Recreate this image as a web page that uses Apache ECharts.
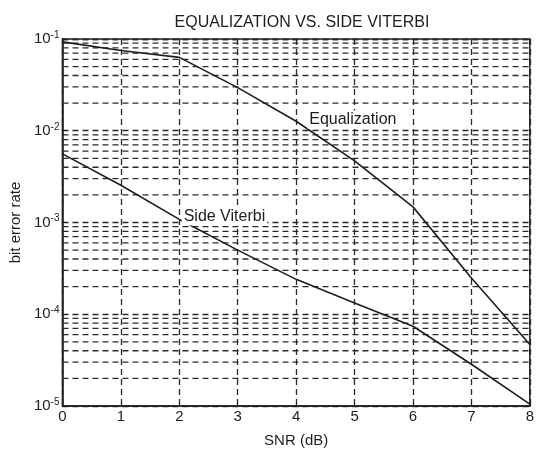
<!DOCTYPE html>
<html>
<head>
<meta charset="utf-8">
<script src="https://cdn.jsdelivr.net/npm/echarts@6/dist/echarts.min.js"></script>
<style>
html,body{margin:0;padding:0;background:#fff;}
#chart{width:537px;height:453px;}
</style>
</head>
<body>
<div id="chart"></div>
<script>
const snr = [0, 1, 2, 3, 4, 5, 6, 7, 8];
const equalization = [0.093, 0.075, 0.063, 0.0295, 0.0127, 0.0047, 0.00148, 0.000248, 0.0000468];
const sideViterbi = [0.0056, 0.00255, 0.00108, 0.00050, 0.00024, 0.000133, 0.000074, 0.0000285, 0.0000105];
const xTicks = [0, 1, 2, 3, 4, 5, 6, 7, 8];
const yTicks = [1e-5, 1e-4, 1e-3, 1e-2, 1e-1];
const minorMultipliers = [2, 3, 4, 5, 6, 7, 8, 9];
const titleText = 'EQUALIZATION VS. SIDE VITERBI';
const xName = 'SNR (dB)';
const yName = 'bit error rate';
const eqLabel = { text: 'Equalization', x: 4.19, y: 0.0133 };
const svLabel = { text: 'Side Viterbi', x: 2.04, y: 0.00116 };

const FONT = '"Liberation Sans", Arial, Helvetica, sans-serif';
const INK = '#1e1e1e';
const GRID = '#2a2a2a';
const dash = [6, 4];

const minorValues = [];
yTicks.slice(0, -1).forEach(d => minorMultipliers.forEach(m => minorValues.push(m * d)));

function pairs(ys) { return snr.map((x, i) => [x, ys[i]]); }

function curveLabel(lbl) {
  return {
    symbol: 'circle', symbolSize: 0.01, silent: true,
    data: [{ coord: [lbl.x, lbl.y] }],
    label: {
      show: true, position: 'right', distance: 0,
      formatter: lbl.text, color: INK, fontFamily: FONT, fontSize: 16,
      backgroundColor: '#fff', padding: [1, 2]
    },
    z: 10
  };
}

const minorSeries = minorValues.map(v => ({
  type: 'line', silent: true, z: 1, symbol: 'none', showSymbol: false,
  data: [[xTicks[0], v], [xTicks[xTicks.length - 1], v]],
  lineStyle: { color: GRID, type: dash, width: 1.3 },
  tooltip: { show: false }
}));

const chart = echarts.init(document.getElementById('chart'), null, { renderer: 'canvas' });
chart.setOption({
  animation: false,
  backgroundColor: '#fff',
  title: {
    text: titleText, left: 297, top: 10, textAlign: 'center',
    textStyle: { fontFamily: FONT, fontSize: 16, fontWeight: 'normal', color: INK }
  },
  grid: {
    left: 60, right: 3, top: 39, bottom: 44,
    show: true, borderColor: INK, borderWidth: 1.5, backgroundColor: 'transparent'
  },
  xAxis: {
    type: 'value', min: 0, max: 8, interval: 1,
    name: xName, nameLocation: 'middle', nameGap: 27,
    nameTextStyle: { fontFamily: FONT, fontSize: 15, color: INK },
    axisLine: { show: true, onZero: false, lineStyle: { color: INK, width: 1.5 } },
    axisTick: { show: true, inside: true, length: 4, lineStyle: { color: INK } },
    axisLabel: {
      margin: 3, fontFamily: FONT, fontSize: 15, color: INK,
      formatter: v => xTicks.includes(v) ? String(v) : ''
    },
    splitLine: { show: true, lineStyle: { color: GRID, type: dash, width: 1.3 } }
  },
  yAxis: {
    type: 'log', logBase: 10, min: yTicks[0], max: yTicks[yTicks.length - 1],
    name: yName, nameLocation: 'middle', nameGap: 38, nameRotate: 90,
    nameTextStyle: { fontFamily: FONT, fontSize: 15, color: INK },
    axisLine: { show: true, onZero: false, lineStyle: { color: INK, width: 1.5 } },
    axisTick: { show: true, inside: true, length: 4, lineStyle: { color: INK } },
    axisLabel: {
      margin: 3, color: INK,
      formatter: v => '{b|10}{s|' + Math.round(Math.log10(v)) + '}',
      rich: {
        b: { fontFamily: FONT, fontSize: 15, color: INK },
        s: { fontFamily: FONT, fontSize: 10, color: INK, verticalAlign: 'top', padding: [0, 0, 8, 0] }
      }
    },
    splitLine: { show: true, lineStyle: { color: GRID, type: dash, width: 1.3 } }
  },
  series: minorSeries.concat([
    {
      name: 'Equalization', type: 'line', data: pairs(equalization),
      showSymbol: false, symbol: 'none', z: 5,
      lineStyle: { color: INK, width: 1.6 },
      markPoint: curveLabel(eqLabel)
    },
    {
      name: 'Side Viterbi', type: 'line', data: pairs(sideViterbi),
      showSymbol: false, symbol: 'none', z: 5,
      lineStyle: { color: INK, width: 1.6 },
      markPoint: curveLabel(svLabel)
    }
  ])
});
</script>
</body>
</html>
